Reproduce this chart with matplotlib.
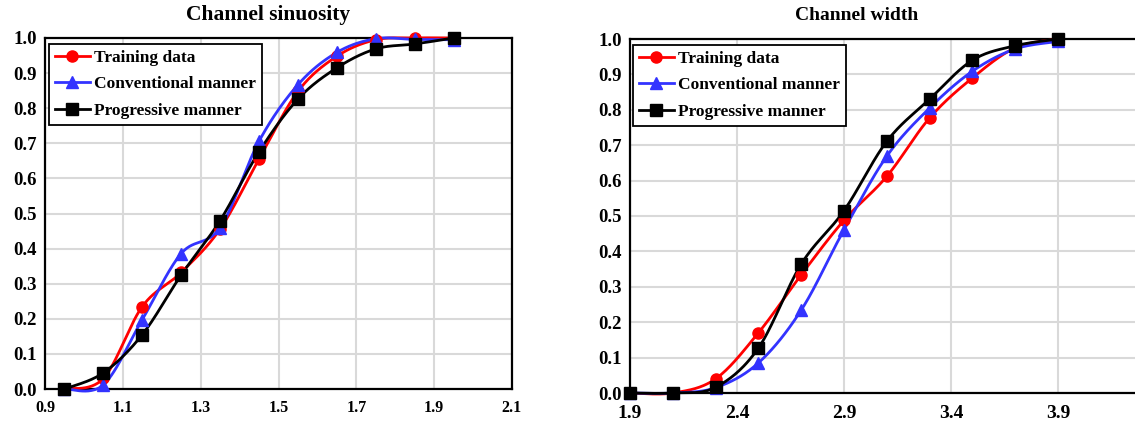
import numpy as np
import matplotlib
matplotlib.use("Agg")
import matplotlib.pyplot as plt
from matplotlib.lines import Line2D

plt.rcParams['font.family'] = ['Liberation Serif', 'DejaVu Serif']
plt.rcParams['font.weight'] = 'bold'

# ---- data -------------------------------------------------------------
sin_x = [0.95, 1.05, 1.15, 1.25, 1.35, 1.45, 1.55, 1.65, 1.75, 1.85, 1.95]
sin_training = [0.0, 0.03, 0.235, 0.332, 0.456, 0.655, 0.848, 0.948, 0.995, 1.0, 1.0]
sin_conventional = [0.0, 0.012, 0.198, 0.386, 0.46, 0.706, 0.867, 0.959, 0.998, 0.996, 0.995]
sin_progressive = [0.0, 0.046, 0.155, 0.325, 0.48, 0.676, 0.826, 0.915, 0.969, 0.983, 1.0]

wid_x = [1.9, 2.1, 2.3, 2.5, 2.7, 2.9, 3.1, 3.3, 3.5, 3.7, 3.9]
wid_training = [0.0, 0.0, 0.04, 0.17, 0.334, 0.488, 0.612, 0.777, 0.89, 0.975, 1.0]
wid_conventional = [0.0, 0.0, 0.015, 0.085, 0.234, 0.461, 0.669, 0.805, 0.909, 0.972, 0.993]
wid_progressive = [0.0, 0.0, 0.016, 0.127, 0.364, 0.515, 0.711, 0.83, 0.94, 0.981, 1.0]

series_names = ["Training data", "Conventional manner", "Progressive manner"]
series_colors = ["#ff0000", "#3333ff", "#000000"]
series_markers = ["o", "^", "s"]

y_ticks = [round(0.1 * i, 1) for i in range(11)]
sin_xticks = [0.9, 1.1, 1.3, 1.5, 1.7, 1.9, 2.1]
wid_xticks = [1.9, 2.4, 2.9, 3.4, 3.9]


def smooth(x, y, n=30):
    """Catmull-Rom curve through the points (smoothed line style)."""
    p = np.column_stack([x, y]).astype(float)
    p = np.vstack([p[0], p, p[-1]])
    t = np.linspace(0, 1, n)[:, None]
    out = []
    for i in range(1, len(p) - 2):
        p0, p1, p2, p3 = p[i - 1], p[i], p[i + 1], p[i + 2]
        seg = 0.5 * ((2 * p1) + (-p0 + p2) * t
                     + (2 * p0 - 5 * p1 + 4 * p2 - p3) * t ** 2
                     + (-p0 + 3 * p1 - 3 * p2 + p3) * t ** 3)
        out.append(seg if i == 1 else seg[1:])
    out = np.vstack(out)
    return out[:, 0], out[:, 1]


def draw(ax, x, ys, xlim, xticks, xsize, ysize, xpad, leg_anchor):
    ax.set_xlim(*xlim)
    ax.set_ylim(0, 1.0)
    for y, c, m in zip(ys, series_colors, series_markers):
        sx, sy = smooth(x, y)
        ax.plot(sx, sy, color=c, lw=2.0, zorder=3, clip_on=False)
        ax.plot(x, y, ls='none', marker=m, ms=8 if m != "^" else 8.5,
                color=c, zorder=4, clip_on=False)
    ax.set_yticks(y_ticks)
    ax.set_yticklabels([f"{v:.1f}" for v in y_ticks])
    ax.set_xticks(xticks)
    ax.set_xticklabels([f"{v:.1f}" for v in xticks])
    ax.tick_params(axis='x', length=0, labelsize=xsize, pad=xpad)
    ax.tick_params(axis='y', length=0, labelsize=ysize, pad=6)
    for lbl in ax.get_xticklabels() + ax.get_yticklabels():
        lbl.set_fontweight('bold')
    ax.grid(True, color="#d9d9d9", lw=1.5)
    ax.set_axisbelow(True)
    for s in ax.spines.values():
        s.set_color("black")
        s.set_linewidth(1.6)
    handles = [Line2D([0], [0], color=c, marker=m, lw=2, ms=8)
               for c, m in zip(series_colors, series_markers)]
    leg = ax.legend(handles, series_names, loc="upper left",
                    bbox_to_anchor=leg_anchor, borderaxespad=0,
                    frameon=True, fancybox=False,
                    edgecolor="black", framealpha=1, handlelength=2.0,
                    handletextpad=0.25, borderpad=0.35, labelspacing=0.58,
                    prop={'weight': 'bold', 'size': 12.5})
    leg.get_frame().set_linewidth(1.3)


W, H = 1135, 425
fig = plt.figure(figsize=(W / 100, H / 100), dpi=100)

ax1 = fig.add_axes([45 / W, 1 - 389 / H, (512 - 45) / W, (389 - 38) / H])
draw(ax1, sin_x, [sin_training, sin_conventional, sin_progressive],
     (0.9, 2.1), sin_xticks, 11.5, 13.5, 8,
     (4 / 467, 1 - 6 / 351))
fig.text(268 / W, 1 - 15 / H, "Channel sinuosity", ha="center", va="center",
         fontsize=15.5, fontweight="bold")

ax2 = fig.add_axes([630 / W, 1 - 393 / H, (1165 - 630) / W, (393 - 39) / H])
draw(ax2, wid_x, [wid_training, wid_conventional, wid_progressive],
     (1.9, 4.4), wid_xticks, 14, 13.5, 9,
     (3 / 535, 1 - 6 / 354))
fig.text(857 / W, 1 - 15 / H, "Channel width", ha="center", va="center",
         fontsize=14, fontweight="bold")

fig.savefig("out.png", dpi=100)
